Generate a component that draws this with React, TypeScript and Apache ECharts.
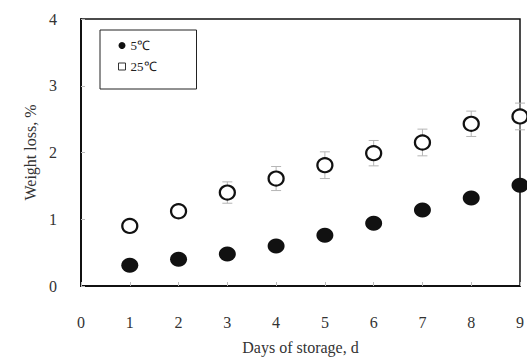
import React, { useEffect, useRef } from "react";
import * as echarts from "echarts";

const days = [1, 2, 3, 4, 5, 6, 7, 8, 9];
const loss5C = [0.31, 0.4, 0.48, 0.6, 0.76, 0.94, 1.14, 1.32, 1.51];
const loss25C = [0.9, 1.12, 1.4, 1.61, 1.81, 1.99, 2.15, 2.43, 2.54];
const err25C = [0.1, 0.1, 0.16, 0.18, 0.2, 0.19, 0.2, 0.19, 0.2];
const err5C = [0.05, 0.05, 0.05, 0.05, 0.06, 0.06, 0.06, 0.07, 0.07];
const xTicks = [0, 1, 2, 3, 4, 5, 6, 7, 8, 9];
const yTicks = [0, 1, 2, 3, 4];

const FONT = "Liberation Serif";

export default function App() {
  const ref = useRef<HTMLDivElement>(null);
  useEffect(() => {
    if (!ref.current) return;
    const chart = echarts.init(ref.current, null, { renderer: "svg" });
    const errData = (vals: number[], errs: number[]) =>
      days.map((d, i) => [d, vals[i] - errs[i], vals[i] + errs[i]]);
    const errRender = (params: any, api: any) => {
      const x = api.value(0);
      const lo = api.coord([x, api.value(1)]);
      const hi = api.coord([x, api.value(2)]);
      const w = 5;
      const style = { stroke: "#b5b5b5", lineWidth: 1 };
      return {
        type: "group",
        children: [
          { type: "line", shape: { x1: lo[0], y1: lo[1], x2: hi[0], y2: hi[1] }, style },
          { type: "line", shape: { x1: lo[0] - w, y1: lo[1], x2: lo[0] + w, y2: lo[1] }, style },
          { type: "line", shape: { x1: hi[0] - w, y1: hi[1], x2: hi[0] + w, y2: hi[1] }, style },
        ],
      };
    };
    chart.setOption({
      animation: false,
      backgroundColor: "#fff",
      textStyle: { fontFamily: FONT },
      grid: {
        left: 81,
        right: 4,
        top: 19,
        bottom: 74,
        show: true,
        borderColor: "#111",
        borderWidth: 1.5,
      },
      legend: {
        orient: "vertical",
        left: 100,
        top: 30,
        padding: [9, 40, 16, 18],
        itemGap: 8,
        itemWidth: 7,
        itemHeight: 7,
        borderColor: "#222",
        borderWidth: 1,
        backgroundColor: "#fff",
        textStyle: { fontFamily: FONT, fontSize: 13, color: "#222" },
        data: [
          { name: "5℃", icon: "circle", itemStyle: { color: "#111", borderWidth: 0 } },
          { name: "25℃", icon: "rect", itemStyle: { color: "#fff", borderColor: "#333", borderWidth: 1 } },
        ],
      },
      xAxis: {
        type: "value",
        min: 0,
        max: 9,
        interval: 1,
        name: "Days of storage, d",
        nameLocation: "middle",
        nameGap: 53,
        nameTextStyle: { fontFamily: FONT, fontSize: 16, color: "#333" },
        axisLine: { show: true, lineStyle: { color: "#111", width: 2 } },
        axisTick: { show: true, inside: true, length: 4, lineStyle: { color: "#bbb" } },
        axisLabel: {
          fontFamily: FONT,
          fontSize: 16,
          color: "#333",
          margin: 28,
          formatter: (v: number) => (xTicks.includes(v) ? String(v) : ""),
        },
        splitLine: { show: false },
      },
      yAxis: {
        type: "value",
        min: 0,
        max: 4,
        interval: 1,
        name: "Weight loss, %",
        nameLocation: "middle",
        nameGap: 36,
        nameTextStyle: { fontFamily: FONT, fontSize: 16, color: "#333" },
        axisLine: { show: true, lineStyle: { color: "#111", width: 2 } },
        axisTick: { show: true, inside: true, length: 4, lineStyle: { color: "#bbb" } },
        axisLabel: {
          fontFamily: FONT,
          fontSize: 16,
          color: "#333",
          margin: 24,
          formatter: (v: number) => (yTicks.includes(v) ? String(v) : ""),
        },
        splitLine: { show: false },
      },
      series: [
        {
          name: "25℃ err",
          type: "custom",
          renderItem: errRender,
          data: errData(loss25C, err25C),
          z: 1,
          silent: true,
        },
        {
          name: "5℃ err",
          type: "custom",
          renderItem: errRender,
          data: errData(loss5C, err5C),
          z: 1,
          silent: true,
        },
        {
          name: "5℃",
          type: "scatter",
          data: days.map((d, i) => [d, loss5C[i]]),
          symbol: "circle",
          symbolSize: [17, 15],
          itemStyle: { color: "#111", opacity: 1 },
          z: 3,
        },
        {
          name: "25℃",
          type: "scatter",
          data: days.map((d, i) => [d, loss25C[i]]),
          symbol: "circle",
          symbolSize: [15, 14],
          itemStyle: { color: "#fff", borderColor: "#111", borderWidth: 2.2, opacity: 1 },
          z: 3,
        },
      ],
    });
    return () => chart.dispose();
  }, []);
  return <div ref={ref} style={{ width: 527, height: 360, position: "absolute", left: 0, top: 0 }} />;
}
